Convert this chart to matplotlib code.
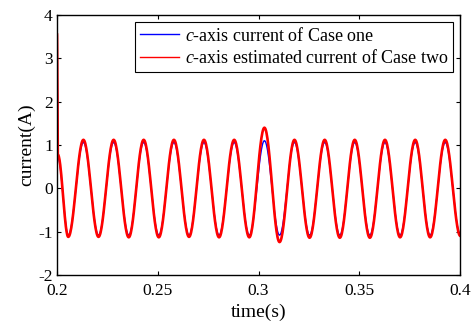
import numpy as np
import matplotlib.pyplot as plt

plt.rcParams['font.family'] = 'Liberation Serif'
plt.rcParams['mathtext.fontset'] = 'custom'
plt.rcParams['mathtext.rm'] = 'Liberation Serif'
plt.rcParams['mathtext.it'] = 'Liberation Serif:italic'
plt.rcParams['axes.unicode_minus'] = False

# turning points (peaks / troughs), shared time axis
t_ext = [0.2000, 0.2004, 0.2056, 0.2131, 0.2206, 0.2281, 0.2356, 0.2430, 0.2505,
         0.2580, 0.2655, 0.2729, 0.2804, 0.2879, 0.2954, 0.3029, 0.3104, 0.3178,
         0.3253, 0.3328, 0.3403, 0.3477, 0.3552, 0.3627, 0.3702, 0.3777, 0.3851,
         0.3926, 0.4001]
case_one = [3.40, 0.72, -1.08, 1.06, -1.08, 1.06, -1.08, 1.06, -1.08,
            1.06, -1.08, 1.06, -1.08, 1.06, -1.08, 1.10, -1.08, 1.06,
            -1.08, 1.06, -1.08, 1.06, -1.08, 1.06, -1.08, 1.06, -1.08,
            1.06, -1.06]
case_two = [3.55, 0.78, -1.12, 1.12, -1.12, 1.12, -1.13, 1.12, -1.13,
            1.12, -1.12, 1.12, -1.13, 1.12, -1.13, 1.40, -1.24, 1.12,
            -1.14, 1.12, -1.14, 1.12, -1.14, 1.12, -1.13, 1.12, -1.13,
            1.12, -1.10]

x_ticks = [0.2, 0.25, 0.3, 0.35, 0.4]
x_labels = ['0.2', '0.25', '0.3', '0.35', '0.4']
y_ticks = [-2, -1, 0, 1, 2, 3, 4]


def wave(ts, vs, n=30):
    # half-cosine shape between consecutive turning points
    tt, vv = [], []
    for i in range(len(ts) - 1):
        s = np.linspace(0, 1, n, endpoint=False)
        tt.append(ts[i] + (ts[i + 1] - ts[i]) * s)
        vv.append(vs[i] + (vs[i + 1] - vs[i]) * (1 - np.cos(np.pi * s)) / 2)
    tt.append([ts[-1]])
    vv.append([vs[-1]])
    return np.concatenate(tt), np.concatenate(vv)


fig = plt.figure(figsize=(4.71, 3.27), dpi=100)
ax = fig.add_axes([0.121, 0.159, 0.856, 0.795])

t1, v1 = wave(t_ext, case_one)
t2, v2 = wave(t_ext, case_two)
ax.plot(t1, v1, color='blue', lw=1.0, label='$c$-axis current of Case one')
ax.plot(t2, v2, color='red', lw=1.9, label='$c$-axis estimated current of Case two')

ax.set_xlim(0.2, 0.4)
ax.set_ylim(-2, 4)
ax.set_xticks(x_ticks)
ax.set_xticklabels(x_labels)
ax.set_yticks(y_ticks)
ax.tick_params(direction='in', top=True, right=True, labelsize=12.5, length=3, width=0.8, pad=3)
ax.tick_params(axis='x', pad=6)
for sp in ax.spines.values():
    sp.set_linewidth(1.0)

ax.set_xlabel('time(s)', fontsize=14, labelpad=3)
ax.set_ylabel('current(A)', fontsize=14, labelpad=2)

leg = ax.legend(loc='upper right', fontsize=13, fancybox=False, edgecolor='black',
                framealpha=1, borderaxespad=0.4, handlelength=2.2, handletextpad=0.3,
                labelspacing=0.25, borderpad=0.25)
leg.get_frame().set_linewidth(0.8)
for h in leg.get_lines():
    h.set_linewidth(1.0)

plt.savefig('out.png', dpi=100)
